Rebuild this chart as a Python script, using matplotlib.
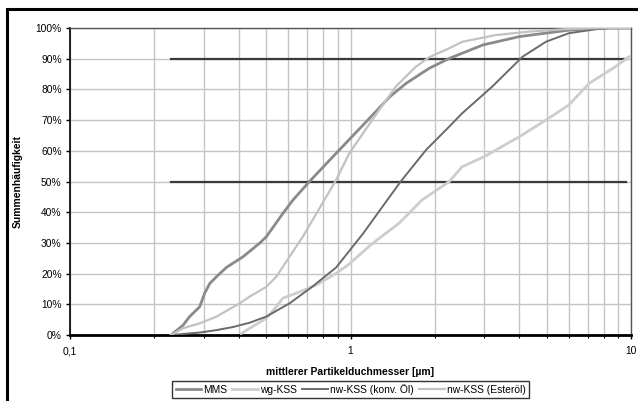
import matplotlib
matplotlib.use("Agg")
import matplotlib.pyplot as plt
from matplotlib.ticker import FixedLocator, FuncFormatter, NullFormatter, LogLocator
from matplotlib.patches import Rectangle

plt.rcParams['font.family'] = ['Liberation Sans', 'DejaVu Sans']

# Particle size distributions (cumulative frequency, %) versus mean diameter in µm
mms_d = [0.229, 0.253, 0.267, 0.290, 0.302, 0.315, 0.333, 0.361, 0.414, 0.474, 0.501,
         0.574, 0.624, 0.714, 0.889, 1.20, 1.38, 1.58, 1.91, 2.25, 2.97, 4.0, 6.0,
         8.0, 10.0]
mms_q = [0.0, 3.2, 6.0, 9.2, 13.6, 16.8, 19.0, 22.0, 25.5, 29.9, 32.0,
         39.6, 44.0, 50.0, 59.2, 71.7, 77.6, 82.0, 86.9, 90.1, 94.5, 97.2, 99.3,
         100.0, 100.0]

wg_d = [0.408, 0.50, 0.544, 0.574, 0.64, 0.756, 0.889, 0.98, 1.20, 1.49, 1.80, 2.25,
        2.5, 3.0, 4.0, 4.97, 6.0, 7.1, 8.8, 9.8, 10.0]
wg_q = [0.5, 5.4, 9.2, 12.0, 13.6, 16.3, 20.1, 22.8, 29.9, 36.4, 44.0, 50.0,
        54.8, 58.1, 64.6, 70.0, 74.9, 82.0, 87.4, 90.5, 91.0]

konv_d = [0.229, 0.29, 0.333, 0.381, 0.437, 0.501, 0.606, 0.73, 0.889, 1.11, 1.30,
          1.51, 1.86, 2.25, 2.5, 3.2, 4.1, 4.97, 6.0, 7.5, 8.5, 10.0]
konv_q = [0.0, 0.8, 1.6, 2.6, 4.0, 6.0, 10.3, 15.7, 22.0, 33.1, 41.8,
          50.0, 60.3, 67.9, 72.2, 80.9, 90.6, 95.5, 98.3, 99.6, 100.0, 100.0]

ester_d = [0.229, 0.253, 0.290, 0.333, 0.402, 0.437, 0.501, 0.544, 0.606, 0.676, 0.756,
           0.889, 0.99, 1.23, 1.45, 1.71, 1.91, 2.25, 2.5, 3.3, 4.3, 6.0, 8.0, 10.0]
ester_q = [0.0, 2.2, 3.8, 6.0, 10.3, 12.5, 15.7, 19.0, 25.5, 32.0, 39.6,
           50.5, 59.2, 71.7, 80.9, 87.4, 90.5, 93.4, 95.5, 97.7, 98.8, 99.7, 100.0, 100.0]

# Reference levels (d50 and d90)
ref_d = [0.229, 9.6]
ref_levels = [50, 90]

series_names = ["MMS", "wg-KSS", "nw-KSS (konv. Öl)", "nw-KSS (Esteröl)"]
x_tick_values = [0.1, 1, 10]
x_tick_labels = ["0,1", "1", "10"]
y_tick_values = list(range(0, 101, 10))

FS = 7.4
W, H = 638, 401
fig = plt.figure(figsize=(W / 100, H / 100), dpi=100)
ax = fig.add_axes([70 / W, 1 - 335 / H, (631 - 70) / W, (335 - 28) / H])

ax.set_xscale('log')
ax.set_xlim(0.1, 10)
ax.set_ylim(0, 100)

grid_c = '#c4c4c4'
ax.xaxis.set_minor_locator(LogLocator(base=10, subs=range(2, 10)))
ax.xaxis.set_minor_formatter(NullFormatter())
ax.xaxis.set_major_locator(FixedLocator(x_tick_values))
ax.xaxis.set_major_formatter(FuncFormatter(
    lambda v, p: x_tick_labels[x_tick_values.index(v)] if v in x_tick_values else ""))
ax.yaxis.set_major_locator(FixedLocator(y_tick_values))
ax.yaxis.set_major_formatter(FuncFormatter(lambda v, p: f"{int(round(v))}%"))

ax.grid(True, which='both', axis='x', color=grid_c, lw=1.0)
ax.grid(True, which='major', axis='y', color=grid_c, lw=1.0)
ax.set_axisbelow(True)

l1, = ax.plot(mms_d, mms_q, color='#8a8a8a', lw=2.0, label=series_names[0], zorder=3)
l2, = ax.plot(wg_d, wg_q, color='#cdcdcd', lw=2.0, label=series_names[1], zorder=3)
l3, = ax.plot(konv_d, konv_q, color='#6a6a6a', lw=1.4, label=series_names[2], zorder=3)
l4, = ax.plot(ester_d, ester_q, color='#c2c2c2', lw=1.6, label=series_names[3], zorder=3)
for lev in ref_levels:
    ax.plot(ref_d, [lev, lev], color='#3a3a3a', lw=1.6, zorder=2)

for s in ['top', 'right']:
    ax.spines[s].set_color('#555555')
    ax.spines[s].set_linewidth(1.0)
ax.spines['left'].set_color('black')
ax.spines['left'].set_linewidth(1.2)
ax.spines['bottom'].set_color('black')
ax.spines['bottom'].set_linewidth(2.0)

ax.tick_params(axis='both', which='major', labelsize=FS, colors='black', length=3, width=1)
ax.tick_params(axis='x', which='minor', length=2, width=0.8)
ax.tick_params(axis='x', which='major', pad=5)
ax.tick_params(axis='y', which='major', pad=3)

ax.set_xlabel("mittlerer Partikelduchmesser [µm]", fontsize=FS, fontweight='bold', labelpad=8)
ax.set_ylabel("Summenhäufigkeit", fontsize=FS, fontweight='bold', labelpad=9)

leg = fig.legend(handles=[l1, l2, l3, l4], loc='center', ncol=4,
                 bbox_to_anchor=(350.5 / W, 1 - 389.5 / H), fontsize=FS,
                 frameon=True, fancybox=False, edgecolor='black',
                 handlelength=2.5, handletextpad=0.2, columnspacing=0.5,
                 borderpad=0.3, borderaxespad=0)
leg.get_frame().set_linewidth(1.0)

# Outer chart frame
fig.patches.append(Rectangle((6.5 / W, -0.05), 1.1, 1 - 8.5 / H + 0.05,
                             transform=fig.transFigure, fill=False,
                             edgecolor='black', lw=2.2))

fig.savefig("out.png", dpi=100, facecolor='white')
